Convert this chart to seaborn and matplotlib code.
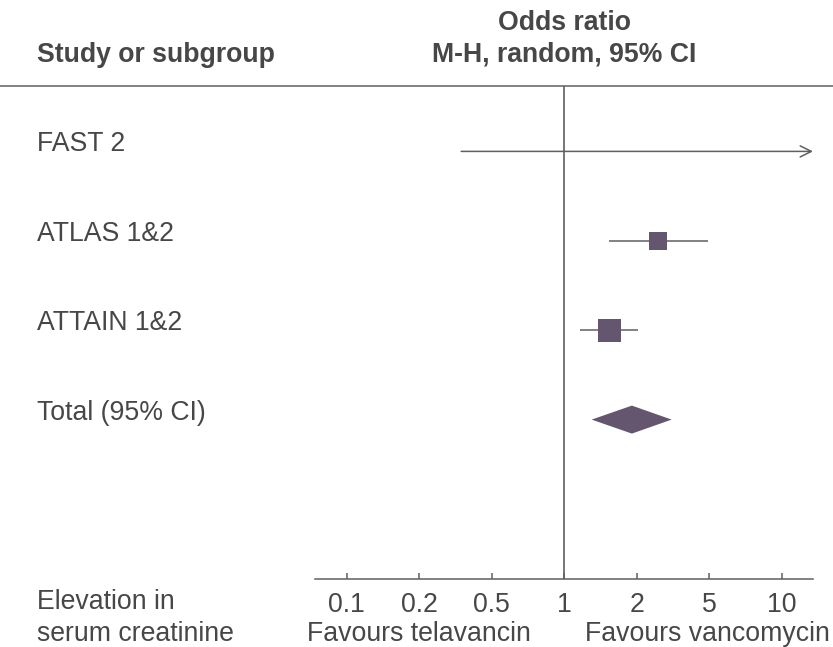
import numpy as np
import pandas as pd
import matplotlib
matplotlib.use("Agg")
import matplotlib.pyplot as plt
import matplotlib.transforms as mtransforms
from matplotlib.lines import Line2D
from matplotlib.ticker import FixedLocator, FixedFormatter, NullLocator
import seaborn as sns

# ---------------- data ----------------
studies = ["FAST 2", "ATLAS 1&2", "ATTAIN 1&2"]
odds_ratio = [np.nan, 2.61, 1.54]        # FAST 2 point estimate is off the scale
ci_lower = [0.34, 1.54, 1.16]
ci_upper = [np.inf, 4.95, 2.04]          # FAST 2 upper limit beyond the axis (arrow)
total_label = "Total (95% CI)"
total_or = 1.91
total_lower = 1.30
total_upper = 3.11
tick_values = [0.1, 0.2, 0.5, 1, 2, 5, 10]
tick_labels = ["0.1", "0.2", "0.5", "1", "2", "5", "10"]

# ---------------- style ----------------
sns.set_theme(style="white")
plt.rcParams["font.family"] = ["Liberation Sans", "DejaVu Sans"]
TXT = "#474747"
LINE = "#5f5f5f"
MARK = "#65566f"
FS = 19.2

W, H = 833, 647
fig = plt.figure(figsize=(W / 100, H / 100), dpi=100)

def fx(px):
    return px / W

def fy(py):
    return 1 - py / H

ax_left, ax_right, ax_top, ax_bottom = 315, 813, 86, 579
ax = fig.add_axes([fx(ax_left), fy(ax_bottom), fx(ax_right - ax_left), (ax_bottom - ax_top) / H])

# piecewise log scale with equally spaced ticks
L = np.log10(tick_values)
IDX = np.arange(len(tick_values), dtype=float)

def fwd(x):
    x = np.asarray(x, dtype=float)
    lx = np.log10(np.clip(x, 1e-12, None))
    y = np.interp(lx, L, IDX)
    lo = lx < L[0]
    hi = lx > L[-1]
    y = np.where(lo, (lx - L[0]) / (L[1] - L[0]), y)
    y = np.where(hi, IDX[-1] + (lx - L[-1]) / (L[-1] - L[-2]), y)
    return y

def inv(y):
    y = np.asarray(y, dtype=float)
    lx = np.interp(y, IDX, L)
    lo = y < IDX[0]
    hi = y > IDX[-1]
    lx = np.where(lo, L[0] + y * (L[1] - L[0]), lx)
    lx = np.where(hi, L[-1] + (y - IDX[-1]) * (L[-1] - L[-2]), lx)
    return 10 ** lx

ax.set_xscale("function", functions=(fwd, inv))
tick_step = (781.7 - 346.7) / 6
xmin = float(inv((ax_left - 346.7) / tick_step))
xmax = float(inv((ax_right - 346.7) / tick_step))
ax.set_xlim(xmin, xmax)

row_step = 89.4
row0 = 151.4
ax.set_ylim((ax_bottom - row0) / row_step, (ax_top - row0) / row_step)

# reference line
ax.axvline(1, color=LINE, lw=1.2, zorder=1)

df = pd.DataFrame({"study": studies, "or": odds_ratio, "lo": ci_lower, "hi": ci_upper,
                   "row": np.arange(len(studies))})

# CI lines
for _, r in df.iterrows():
    if np.isfinite(r["hi"]):
        ax.hlines(r["row"], r["lo"], r["hi"], color=LINE, lw=1.1, zorder=2)
    else:
        ax.annotate("", xy=(xmax, r["row"]), xytext=(r["lo"], r["row"]),
                    xycoords="data", textcoords="data", annotation_clip=False,
                    arrowprops=dict(arrowstyle="->", color=LINE, lw=1.1,
                                    shrinkA=0, shrinkB=0, mutation_scale=20))

# study squares
pts = df.dropna(subset=["or"])
sns.scatterplot(data=pts, x="or", y="row", size="study",
                sizes={"ATLAS 1&2": 13.3 ** 2, "ATTAIN 1&2": 16.6 ** 2},
                marker="s", color=MARK, linewidth=0, legend=False, ax=ax, zorder=3)

# total diamond
trow = len(studies)
h = 14 / row_step
ax.fill([total_lower, total_or, total_upper, total_or], [trow, trow - h, trow, trow + h],
        color=MARK, lw=0, zorder=3)

# axes styling
for s in ["top", "left", "right"]:
    ax.spines[s].set_visible(False)
ax.spines["bottom"].set_color(LINE)
ax.spines["bottom"].set_linewidth(1.1)
ax.xaxis.set_major_locator(FixedLocator(tick_values))
ax.xaxis.set_major_formatter(FixedFormatter(tick_labels))
ax.xaxis.set_minor_locator(NullLocator())
ax.tick_params(axis="x", direction="in", length=4.5, width=1.1, color=LINE,
               labelsize=FS, labelcolor=TXT, pad=9, bottom=True)
ax.set_yticks([])
ax.set_xlabel("")
ax.set_ylabel("")
ax.patch.set_alpha(0)

# row labels
blend = mtransforms.blended_transform_factory(fig.transFigure, ax.transData)
for i, name in enumerate(studies + [total_label]):
    ax.text(fx(37), i, name, transform=blend, ha="left", va="baseline",
            fontsize=FS, color=TXT)

# header
fig.text(fx(564), fy(30), "Odds ratio", ha="center", va="baseline",
         fontsize=FS, fontweight="bold", color=TXT)
fig.text(fx(564), fy(62), "M-H, random, 95% CI", ha="center", va="baseline",
         fontsize=FS, fontweight="bold", color=TXT)
fig.text(fx(37), fy(62), "Study or subgroup", ha="left", va="baseline",
         fontsize=FS, fontweight="bold", color=TXT)
fig.add_artist(Line2D([0, 1], [fy(ax_top), fy(ax_top)], color=LINE, lw=1.1,
                      transform=fig.transFigure))

# footer
fig.text(fx(37), fy(609), "Elevation in", ha="left", va="baseline", fontsize=FS, color=TXT)
fig.text(fx(37), fy(641), "serum creatinine", ha="left", va="baseline", fontsize=FS, color=TXT)
fig.text(fx(419), fy(641), "Favours telavancin", ha="center", va="baseline", fontsize=FS, color=TXT)
fig.text(fx(830), fy(641), "Favours vancomycin", ha="right", va="baseline", fontsize=FS, color=TXT)

fig.savefig("out.png", dpi=100, facecolor="white")
